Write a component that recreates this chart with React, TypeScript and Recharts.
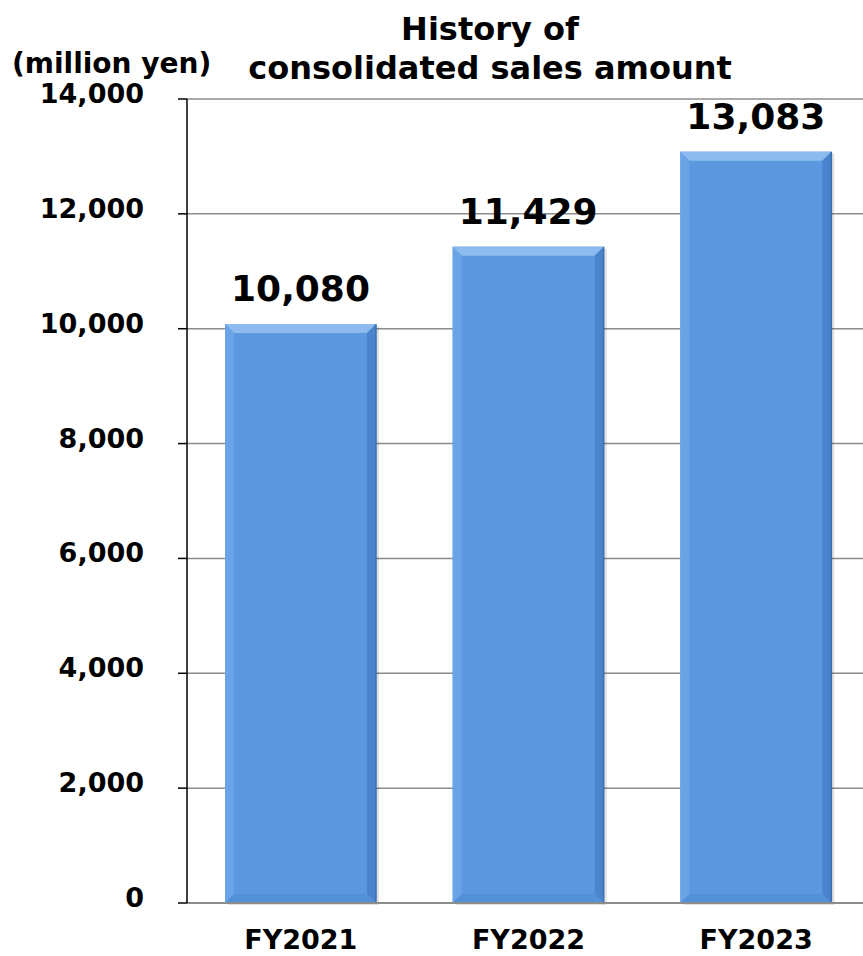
import React from 'react';
import { BarChart, Bar, XAxis, YAxis, CartesianGrid, LabelList } from 'recharts';

const categories = ['FY2021', 'FY2022', 'FY2023'];
const sales = [10080, 11429, 13083];
const yTicks = [0, 2000, 4000, 6000, 8000, 10000, 12000, 14000];

const data = categories.map((c, i) => ({ name: c, value: sales[i] }));

const FONT = '"DejaVu Sans", Verdana, sans-serif';

const fmt = (v: number) => v.toLocaleString('en-US');

const BevelBar = (props: any) => {
  const { x, y, width: w, height: h } = props;
  if (w == null || h == null || h <= 0) return null;
  const b = 9;
  return (
    <g>
      <rect x={x + 3} y={y + 2} width={w} height={h} fill="#000" opacity={0.12} />
      <rect x={x} y={y} width={w} height={h} fill="#5B98E0" />
      <polygon points={`${x},${y} ${x + w},${y} ${x + w - b},${y + b} ${x + b},${y + b}`} fill="#8DBBF0" />
      <polygon points={`${x},${y} ${x + b},${y + b} ${x + b},${y + h - b} ${x},${y + h}`} fill="#6AA3E6" />
      <polygon points={`${x + w},${y} ${x + w - b},${y + b} ${x + w - b},${y + h - b} ${x + w},${y + h}`} fill="#4A84CC" />
      <polygon points={`${x},${y + h} ${x + b},${y + h - b} ${x + w - b},${y + h - b} ${x + w},${y + h}`} fill="#5290D8" />
      <line x1={x + w} y1={y} x2={x + w} y2={y + h} stroke="#3A6FB0" strokeWidth={1.5} />
    </g>
  );
};

const YTick = (props: any) => {
  const { x, y, payload } = props;
  return (
    <text x={x} y={y + 4} textAnchor="end" fill="#000" fontSize={27} fontWeight="bold" fontFamily={FONT}>
      {fmt(Number(payload.value))}
    </text>
  );
};

const XTick = (props: any) => {
  const { x, y, payload } = props;
  return (
    <text x={x} y={y + 38} textAnchor="middle" fill="#000" fontSize={27} fontWeight="bold" fontFamily={FONT}>
      {payload.value}
    </text>
  );
};

export default function App() {
  return (
    <div style={{ position: 'absolute', left: 0, top: 0, width: 863, height: 956, overflow: 'hidden', background: '#fff' }}>
      <BarChart
        width={870}
        height={956}
        data={data}
        margin={{ top: 99, right: 0, bottom: 0, left: 0 }}
        barCategoryGap={0}
      >
        <CartesianGrid horizontal vertical={false} stroke="#8c8c8c" strokeWidth={1.5} />
        <XAxis
          dataKey="name"
          height={53}
          axisLine={{ stroke: '#8c8c8c', strokeWidth: 2 }}
          tickLine={false}
          tick={<XTick />}
        />
        <YAxis
          domain={[0, 14000]}
          ticks={yTicks}
          interval={0}
          width={187}
          axisLine={{ stroke: '#000', strokeWidth: 1.5 }}
          tickLine={{ stroke: '#000', strokeWidth: 1.5 }}
          tickSize={9}
          tickMargin={34}
          tick={<YTick />}
        />
        <Bar dataKey="value" barSize={151} isAnimationActive={false} shape={<BevelBar />}>
          <LabelList
            dataKey="value"
            position="top"
            offset={23}
            formatter={(v: any) => fmt(Number(v))}
            style={{ fill: '#000', fontSize: 36, fontWeight: 'bold', fontFamily: FONT }}
          />
        </Bar>
      </BarChart>
      <svg width={863} height={100} style={{ position: 'absolute', left: 0, top: 0 }}>
        <text x={490} y={40} textAnchor="middle" fontSize={32} fontWeight="bold" fontFamily={FONT} fill="#000">History of</text>
        <text x={490} y={79} textAnchor="middle" fontSize={32} fontWeight="bold" fontFamily={FONT} fill="#000">consolidated sales amount</text>
        <text x={12} y={73} textAnchor="start" fontSize={28} fontWeight="bold" fontFamily={FONT} fill="#000">(million yen)</text>
      </svg>
    </div>
  );
}
